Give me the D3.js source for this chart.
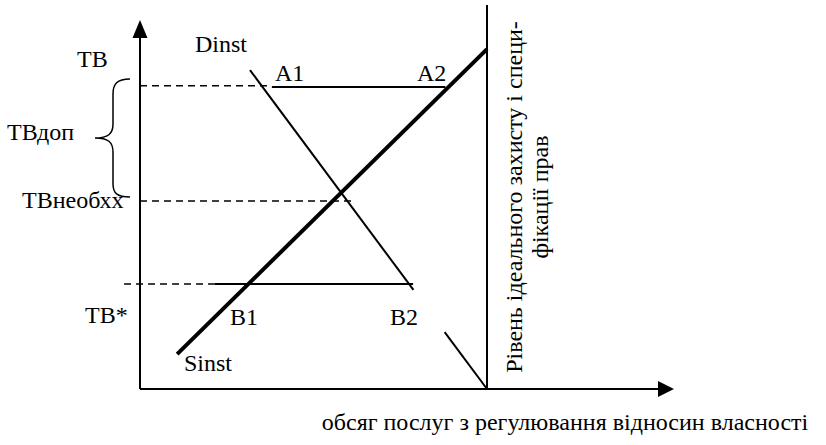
<!DOCTYPE html>
<meta charset="utf-8">
<head>
    <title>ТВ</title>
    <script src="https://d3js.org/d3.v7.min.js"></script>
</head>
<body style="margin:0; background:#fff">
<div id="chart"></div>
<script>
    // curves (x, y in chart units 0..100)
    var sinst = [[10.7, 9.5], [100, 92.6]];
    var dinstUpper = [[31.7, 86.9], [78.8, 27.0]];
    var dinstLower = [[87.8, 15.5], [100, 0]];

    // price levels: ТВ (upper), ТВнеобх, ТВ*
    var levelNames = ["ТВ", "ТВнеобхх", "ТВ*"];
    var levelValues = [82.6, 51.2, 28.6];

    // dashed guides [x from, x to, level]
    var dashed = [[0, 37.5, 82.6], [0, 61.4, 51.2], [-4.6, 21.6, 28.6]];
    // solid segments A1-A2 and B1-B2
    var solid = [[38, 88, 82.3], [21.6, 78.7, 28.6]];

    var width = 826, height = 445;

    var svg = d3.select("#chart")
        .append("svg")
        .attr("width", width)
        .attr("height", height);

    var x = d3.scaleLinear().domain([0, 100]).range([140, 487]);
    var y = d3.scaleLinear().domain([0, 100]).range([389, 22]);

    var line = d3.line()
        .x(function (d) { return x(d[0]); })
        .y(function (d) { return y(d[1]); });

    // axes
    svg.append("line")
        .attr("x1", x(0)).attr("y1", y(0))
        .attr("x2", x(0)).attr("y2", 36)
        .style("stroke", "#000").style("stroke-width", 2);
    svg.append("path")
        .attr("d", "M" + x(0) + ",20 l-7.5,18 l15,0 z")
        .style("fill", "#000");

    svg.append("line")
        .attr("x1", x(0)).attr("y1", y(0))
        .attr("x2", 660).attr("y2", y(0))
        .style("stroke", "#000").style("stroke-width", 2);
    svg.append("path")
        .attr("d", "M674," + y(0) + " l-16,-8 l0,16 z")
        .style("fill", "#000");

    // ideal protection level
    svg.append("line")
        .attr("x1", x(100)).attr("y1", y(0))
        .attr("x2", x(100)).attr("y2", 5)
        .style("stroke", "#000").style("stroke-width", 2);

    // dashed guides
    svg.selectAll(".dash")
        .data(dashed)
        .enter()
        .append("line")
        .attr("x1", function (d) { return x(d[0]); })
        .attr("x2", function (d) { return x(d[1]); })
        .attr("y1", function (d) { return y(d[2]); })
        .attr("y2", function (d) { return y(d[2]); })
        .style("stroke", "#000")
        .style("stroke-width", 1.5)
        .style("stroke-dasharray", "7,5");

    svg.selectAll(".solid")
        .data(solid)
        .enter()
        .append("line")
        .attr("x1", function (d) { return x(d[0]); })
        .attr("x2", function (d) { return x(d[1]); })
        .attr("y1", function (d) { return y(d[2]); })
        .attr("y2", function (d) { return y(d[2]); })
        .style("stroke", "#000")
        .style("stroke-width", 2);

    // demand
    [dinstUpper, dinstLower].forEach(function (seg) {
        svg.append("path")
            .attr("d", line(seg))
            .style("fill", "none")
            .style("stroke", "#000")
            .style("stroke-width", 2);
    });

    // supply
    svg.append("path")
        .attr("d", line(sinst))
        .style("fill", "none")
        .style("stroke", "#000")
        .style("stroke-width", 4);

    // brace
    svg.append("path")
        .attr("d", "M130,79 C117,79 113,84 113,94 L113,124 C113,134 108,138 95,138 C108,138 113,142 113,152 L113,184 C113,193 117,197 130,197")
        .style("fill", "none")
        .style("stroke", "#000")
        .style("stroke-width", 1.5);

    // labels
    var labels = [
        [levelNames[0], 77, 67],
        ["Dinst", 195, 52],
        ["A1", 275, 81],
        ["A2", 417, 81],
        ["ТВдоп", 7, 140],
        [levelNames[1], 22, 208],
        [levelNames[2], 85, 323],
        ["B1", 230, 325],
        ["B2", 390, 325],
        ["Sinst", 184, 371]
    ];
    svg.selectAll(".lbl")
        .data(labels)
        .enter()
        .append("text")
        .attr("x", function (d) { return d[1]; })
        .attr("y", function (d) { return d[2]; })
        .attr("font-family", "Liberation Serif")
        .attr("font-size", 24)
        .text(function (d) { return d[0]; });

    var bottom = svg.append("text")
        .attr("x", 565)
        .attr("y", 430)
        .attr("text-anchor", "middle")
        .attr("font-family", "Liberation Serif")
        .attr("font-size", 24)
        .text("обсяг послуг з регулювання відносин власності");
    bottom.node().getComputedTextLength();

    var vt = svg.append("text")
        .attr("transform", "translate(522,197) rotate(-90)")
        .attr("text-anchor", "middle")
        .attr("font-family", "Liberation Serif")
        .attr("font-size", 24);
    vt.append("tspan").attr("x", 0).attr("y", 0).text("Рівень ідеального захисту і специ-");
    vt.append("tspan").attr("x", 0).attr("y", 26).text("фікації прав");
</script>
</body>
